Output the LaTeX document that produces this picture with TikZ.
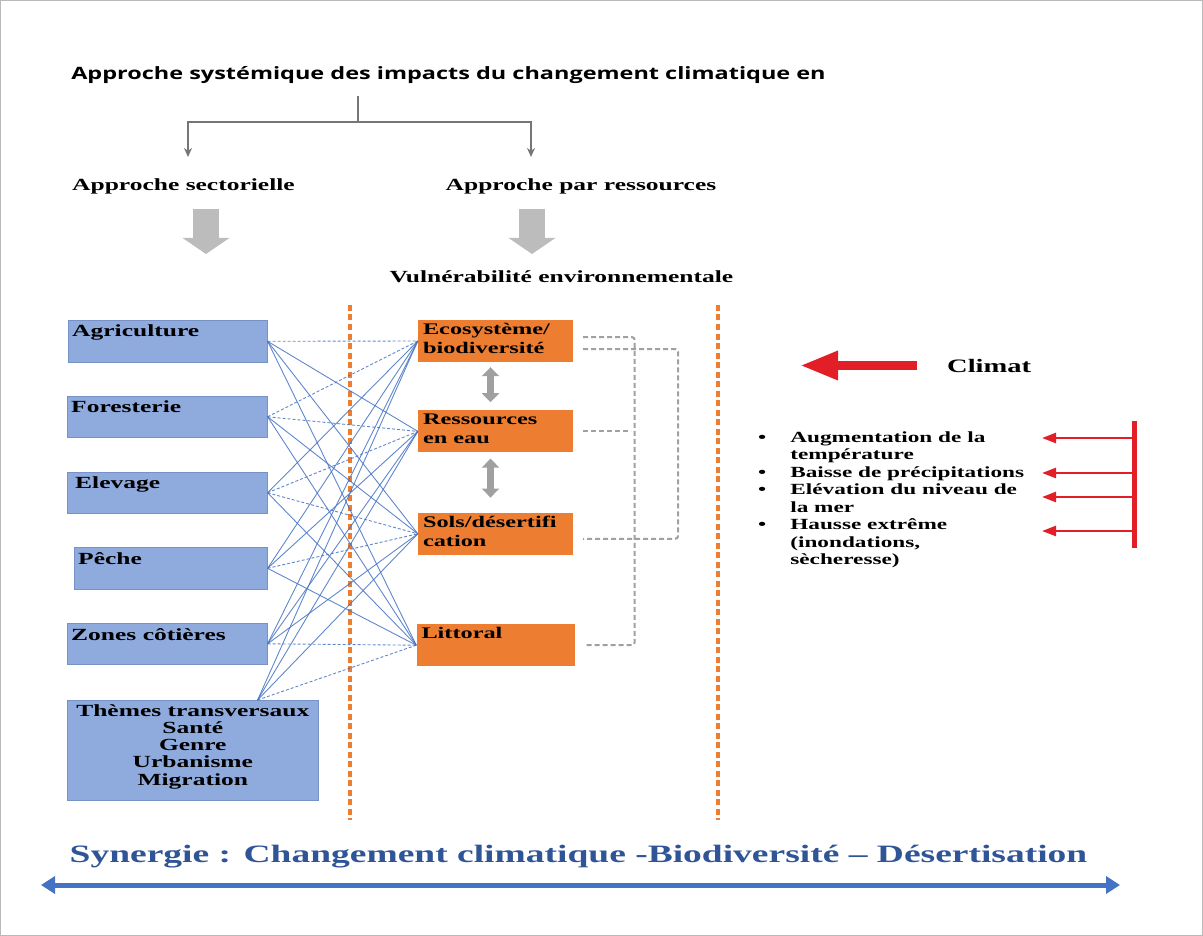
\documentclass[tikz,border=0pt]{standalone}
\usepackage{fontspec}
\setmainfont[FakeStretch=1.5]{Liberation Serif}
\newfontfamily\titlefont[FakeStretch=1.38]{Open Sans}
\usepackage{xcolor}
\usepackage{tikz}
\usetikzlibrary{shapes,arrows,arrows.meta,positioning}

\definecolor{sectblue}{RGB}{143,170,220}
\definecolor{sectedge}{RGB}{118,146,198}
\definecolor{resorange}{RGB}{237,125,49}
\definecolor{linkblue}{RGB}{68,114,196}
\definecolor{arrowgray}{RGB}{188,188,188}
\definecolor{dashgray}{RGB}{160,160,160}
\definecolor{treegray}{RGB}{118,118,118}
\definecolor{climred}{RGB}{226,30,38}
\definecolor{synblue}{RGB}{47,85,151}

\begin{document}
\begin{tikzpicture}[
    x=1pt, y=-1pt,
    sector/.style={rectangle, draw=sectedge, line width=0.6pt, fill=sectblue, anchor=north west, inner sep=0pt},
    resource/.style={rectangle, fill=resorange, inner sep=0pt, minimum width=155pt, minimum height=42pt},
    boxtext/.style={anchor=north west, inner xsep=4pt, inner ysep=5pt, align=left, font=\fontsize{17}{19}\selectfont\bfseries},
    restext/.style={anchor=north west, inner xsep=5pt, inner ysep=3pt, align=left, font=\fontsize{16.2}{19}\selectfont\bfseries},
    caption/.style={anchor=base, inner sep=0pt, font=\fontsize{17}{20}\selectfont\bfseries},
    tree/.style={draw=treegray, line width=2pt},
    fatarrow/.style={draw=arrowgray, line width=26pt, -{Triangle[length=16pt,width=46pt]}},
    linkarrow/.style={draw=dashgray, line width=7pt, {Triangle[length=9pt,width=17pt]}-{Triangle[length=9pt,width=17pt]}},
    zone/.style={draw=resorange, line width=4.5pt, dash pattern=on 6pt off 3.5pt},
    link/.style={draw=linkblue, line width=0.9pt, opacity=0.85},
    linkd/.style={link, dash pattern=on 3pt off 2pt},
    simil/.style={draw=dashgray, line width=2pt, dash pattern=on 5pt off 3pt},
    climarrow/.style={draw=climred, line width=9pt, -{Triangle[length=38pt,width=27pt]}},
    redbar/.style={draw=climred, line width=5pt},
    redarrow/.style={draw=climred, line width=2.5pt, -{Triangle[length=14pt,width=10pt]}},
    synarrow/.style={draw=linkblue, line width=5pt, {Triangle[length=14pt,width=17pt]}-{Triangle[length=14pt,width=17pt]}}
]
\useasboundingbox (0,0) rectangle (1203,936);
\draw[gray!55, line width=1pt] (0.5,0.5) rectangle (1202.5,935.5);

% Title and the two approaches
\node[anchor=base, inner sep=0pt, font=\titlefont\bfseries\fontsize{17}{20}\selectfont] (title) at (448.5,80) {Approche systémique des impacts du changement climatique en};
\node[caption] (sect) at (183.5,191) {Approche sectorielle};
\node[caption] (ress) at (581,191) {Approche par ressources};
\node[caption] (vuln) at (561.5,283) {Vulnérabilité environnementale};

\coordinate (split) at (358,122);
\coordinate (to-sect) at (188,157);
\coordinate (to-ress) at (531,157);
\draw[tree, shorten <=12pt] (title.south -| split) -- (split);
\draw[tree, -{Stealth[length=9pt,width=8pt]}] (split) -| (to-sect);
\draw[tree, -{Stealth[length=9pt,width=8pt]}] (split) -| (to-ress);

\coordinate (sect-arrow) at (206,209);
\coordinate (ress-arrow) at (532,209);
\draw[fatarrow] (sect-arrow) -- ++(0,45);
\draw[fatarrow] (ress-arrow) -- ++(0,45);

% Zone separators
\draw[zone] (350,305) -- (350,820);
\draw[zone] (718,305) -- (718,820);

% Sectors (left)
\node[sector, minimum width=199pt, minimum height=42pt, label={[boxtext]north west:Agriculture}] (agri) at (68,320) {};
\node[sector, minimum width=200pt, minimum height=41pt, label={[boxtext]north west:Foresterie}] (fore) at (67,396) {};
\node[sector, minimum width=200pt, minimum height=41pt, label={[boxtext, inner xsep=8pt]north west:Elevage}] (elev) at (67,472) {};
\node[sector, minimum width=193pt, minimum height=42pt, label={[boxtext]north west:Pêche}] (peche) at (74,547) {};
\node[sector, minimum width=200pt, minimum height=41pt, label={[boxtext]north west:Zones côtières}] (zones) at (67,623) {};
\node[sector, minimum width=251pt, minimum height=100pt,
      label={[anchor=north, inner ysep=4pt, align=center, font=\fontsize{17}{17.3}\selectfont\bfseries]north:Thèmes transversaux\\Santé\\Genre\\Urbanisme\\Migration}] (themes) at (67,700) {};

% Resources (middle)
\node[resource, label={[restext]north west:Ecosystème/\\biodiversité}] (eco) at (495.5,341) {};
\node[resource, below=48pt of eco, label={[restext]north west:Ressources\\en eau}] (eau) {};
\node[resource, below=60pt of eau, label={[restext]north west:Sols/désertifi\\cation}] (sols) {};
\node[resource, below=69pt of sols, minimum width=158pt, label={[restext]north west:Littoral}] (litt) {};

% Links sectors -> resources
\foreach \s in {agri,fore,elev,peche,zones}
    \coordinate (\s-out) at (\s.east);
\coordinate (themes-out) at ([xshift=-61pt]themes.north east);
\foreach \src/\dst/\kind in {
    agri/eco/linkd, agri/eau/link, agri/sols/link, agri/litt/link,
    fore/eco/linkd, fore/eau/linkd, fore/sols/link, fore/litt/link,
    elev/eco/link, elev/eau/linkd, elev/sols/linkd, elev/litt/link,
    peche/eco/link, peche/eau/link, peche/sols/linkd, peche/litt/link,
    zones/eco/link, zones/eau/link, zones/sols/link, zones/litt/linkd,
    themes/eco/link, themes/eau/link, themes/sols/link, themes/litt/linkd}
    \draw[\kind] (\src-out) -- (\dst.west);

% Interactions between resources
\draw[linkarrow] ([xshift=-5pt,yshift=-5pt]eco.south) -- ([xshift=-5pt,yshift=8pt]eau.north);
\draw[linkarrow] ([xshift=-5pt,yshift=-6pt]eau.south) -- ([xshift=-5pt,yshift=15pt]sols.north);
\draw[simil, rounded corners=3pt] ([xshift=10pt,yshift=4pt]eco.east) -| ([xshift=60pt]litt.east) -- ([xshift=10pt]litt.east);
\draw[simil] ([xshift=10pt]eau.east) -- ([xshift=58pt]eau.east);
\draw[simil, rounded corners=3pt] ([xshift=10pt,yshift=-8pt]eco.east) -| ([xshift=105pt,yshift=-5pt]sols.east) -- ([xshift=10pt,yshift=-5pt]sols.east);

% Climate (right)
\node[anchor=base west, inner sep=0pt, font=\fontsize{19}{22}\selectfont\bfseries] (climat) at (947,372) {Climat};
\draw[climarrow] ([xshift=-30pt]climat.west) -- ++(-117,0);

\node[anchor=north west, inner sep=0pt, font=\fontsize{15.5}{17.5}\selectfont\bfseries] (causes) at (758,429.8) {%
  \begin{tabular}{@{}l@{\hspace{24pt}}l@{}}
  • & Augmentation de la\\
    & température\\
  • & Baisse de précipitations\\
  • & Elévation du niveau de\\
    & la mer\\
  • & Hausse extrême\\
    & (inondations,\\
    & sècheresse)
  \end{tabular}};

\coordinate (bar-top) at (1134,421);
\coordinate (bar-bot) at (1134,548);
\draw[redbar] (bar-top) -- (bar-bot);
\foreach \yy in {17,52,76,110}
    \draw[redarrow] ([yshift=-\yy pt]bar-top) -- ++(-92,0);

% Synergy
\node[anchor=base, inner sep=0pt, text=synblue, font=\fontsize{25}{28}\selectfont\bfseries] (synergie) at (578.5,862) {Synergie : Changement climatique -Biodiversité – Désertisation};
\coordinate (syn-left) at (41,885);
\coordinate (syn-right) at (1120,885);
\draw[synarrow] (syn-left) -- (syn-right);

\end{tikzpicture}
\end{document}
